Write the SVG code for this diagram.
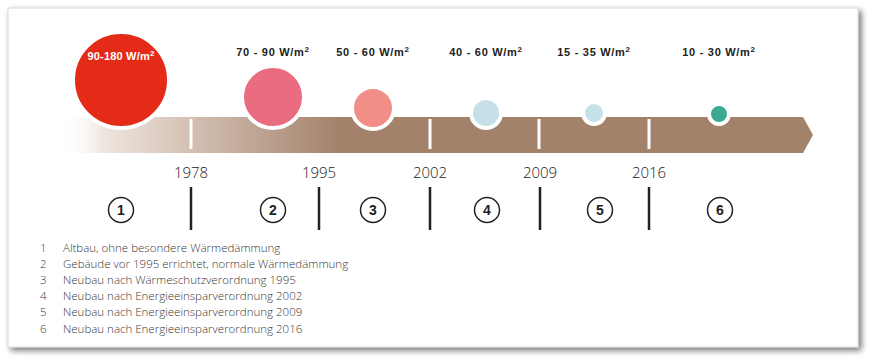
<svg xmlns="http://www.w3.org/2000/svg" width="872" height="362" viewBox="0 0 872 362">
<defs>
<filter id="sh" x="-5%" y="-5%" width="110%" height="115%">
<feGaussianBlur in="SourceAlpha" stdDeviation="3"/>
<feOffset dx="3" dy="3" result="b"/>
<feComponentTransfer><feFuncA type="linear" slope="0.55"/></feComponentTransfer>
<feMerge><feMergeNode/><feMergeNode in="SourceGraphic"/></feMerge>
</filter>
<linearGradient id="bar" gradientUnits="userSpaceOnUse" x1="62" y1="0" x2="340" y2="0">
<stop offset="0" stop-color="#ffffff" stop-opacity="0"/>
<stop offset="0.15" stop-color="#efe5de"/>
<stop offset="1" stop-color="#a3826b"/>
</linearGradient>
<style>
.val{font-family:"Liberation Sans",Arial,sans-serif;font-weight:bold;font-size:11px;letter-spacing:0.7px;fill:#222;text-anchor:middle}
.yr{font-family:"Open Sans","Liberation Sans",sans-serif;font-weight:300;font-size:15px;fill:#222;text-anchor:middle}
.sep{stroke:#222;stroke-width:2.5}
.tick{stroke:#fff;stroke-width:3}
.ring{stroke:#fff;stroke-width:4}
.num{fill:#fff;stroke:#222;stroke-width:1.5}
.numt{font-family:"Liberation Sans",Arial,sans-serif;font-weight:bold;font-size:14px;fill:#222;text-anchor:middle}
.leg{font-family:"Open Sans","Liberation Sans",sans-serif;font-weight:300;font-size:11.5px;fill:#3a3a3a}
</style>
</defs>
<rect x="0" y="0" width="872" height="362" fill="#fff"/>
<rect x="8" y="8" width="850" height="339" fill="#fff" stroke="#d8d8d8" stroke-width="1" filter="url(#sh)"/>
<g id="timeline">
<polygon points="62,117 803,117 813,135 803,153 62,153" fill="url(#bar)"/>
<line class="tick" x1="191" y1="119" x2="191" y2="149"/>
<line class="tick" x1="430" y1="119" x2="430" y2="149"/>
<line class="tick" x1="539" y1="119" x2="539" y2="149"/>
<line class="tick" x1="649" y1="119" x2="649" y2="149"/>
</g>
<g id="c1"><circle class="ring" cx="121" cy="80" r="48" fill="#e32b17"/><text class="val" x="121" y="60" style="fill:#fff;letter-spacing:0.2px">90-180 W/m<tspan font-size="8" dy="-4">2</tspan></text></g>
<g id="c2"><circle class="ring" cx="273" cy="97" r="31" fill="#e96c80"/><text class="val" x="273" y="56">70 - 90 W/m<tspan font-size="8" dy="-4">2</tspan></text></g>
<g id="c3"><circle class="ring" cx="373" cy="108" r="21" fill="#f08e87"/><text class="val" x="373" y="56">50 - 60 W/m<tspan font-size="8" dy="-4">2</tspan></text></g>
<g id="c4"><circle class="ring" cx="486" cy="113" r="15" fill="#c6e0ea"/><text class="val" x="486" y="56">40 - 60 W/m<tspan font-size="8" dy="-4">2</tspan></text></g>
<g id="c5"><circle class="ring" cx="594" cy="113" r="11" fill="#c6e0ea"/><text class="val" x="594" y="56">15 - 35 W/m<tspan font-size="8" dy="-4">2</tspan></text></g>
<g id="c6"><circle class="ring" cx="719" cy="114" r="10" fill="#3baa91"/><text class="val" x="719" y="56">10 - 30 W/m<tspan font-size="8" dy="-4">2</tspan></text></g>
<g id="years">
<text class="yr" x="191" y="178">1978</text>
<text class="yr" x="319" y="178">1995</text>
<text class="yr" x="430" y="178">2002</text>
<text class="yr" x="540" y="178">2009</text>
<text class="yr" x="649" y="178">2016</text>
<line class="sep" x1="191" y1="187" x2="191" y2="230"/>
<line class="sep" x1="319" y1="187" x2="319" y2="230"/>
<line class="sep" x1="430" y1="187" x2="430" y2="230"/>
<line class="sep" x1="540" y1="187" x2="540" y2="230"/>
<line class="sep" x1="649" y1="187" x2="649" y2="230"/>
</g>
<g id="n1"><circle class="num" cx="121" cy="210" r="12.5"/><text class="numt" x="121" y="215">1</text></g>
<g id="n2"><circle class="num" cx="273" cy="210" r="12.5"/><text class="numt" x="273" y="215">2</text></g>
<g id="n3"><circle class="num" cx="373" cy="210" r="12.5"/><text class="numt" x="373" y="215">3</text></g>
<g id="n4"><circle class="num" cx="487" cy="210" r="12.5"/><text class="numt" x="487" y="215">4</text></g>
<g id="n5"><circle class="num" cx="600" cy="210" r="12.5"/><text class="numt" x="600" y="215">5</text></g>
<g id="n6"><circle class="num" cx="720" cy="210" r="12.5"/><text class="numt" x="720" y="215">6</text></g>
<g id="legend">
<text class="leg" x="40" y="252">1</text><text class="leg" x="63" y="252">Altbau, ohne besondere Wärmedämmung</text>
<text class="leg" x="40" y="268">2</text><text class="leg" x="63" y="268">Gebäude vor 1995 errichtet, normale Wärmedämmung</text>
<text class="leg" x="40" y="284">3</text><text class="leg" x="63" y="284">Neubau nach Wärmeschutzverordnung 1995</text>
<text class="leg" x="40" y="300">4</text><text class="leg" x="63" y="300">Neubau nach Energieeinsparverordnung 2002</text>
<text class="leg" x="40" y="316">5</text><text class="leg" x="63" y="316">Neubau nach Energieeinsparverordnung 2009</text>
<text class="leg" x="40" y="333">6</text><text class="leg" x="63" y="333">Neubau nach Energieeinsparverordnung 2016</text>
</g>
</svg>
